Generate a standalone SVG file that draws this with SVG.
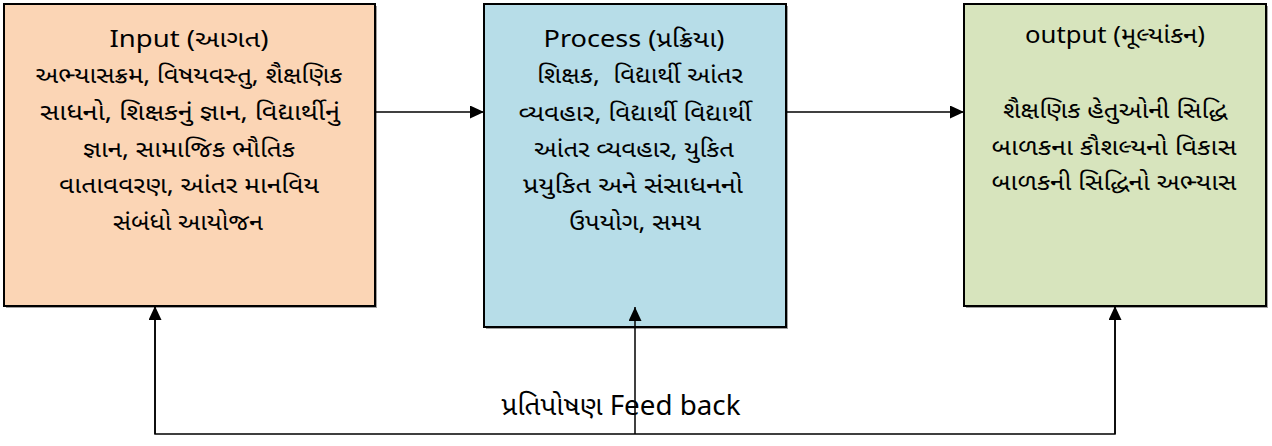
<svg xmlns="http://www.w3.org/2000/svg" width="1272" height="446" viewBox="0 0 1272 446">
  <style>
    .box { stroke: #000; stroke-width: 2; }
    .shadow { fill: #a0a0a0; }
    .t { font-family: "Noto Sans Gujarati", "Noto Sans", "Liberation Sans", sans-serif; font-size: 23px; fill: #000; text-anchor: middle; }
    .conn { stroke: #000; stroke-width: 1.5; fill: none; }
    .fb { font-family: "Noto Sans Gujarati", "Noto Sans", "Liberation Sans", sans-serif; font-size: 27px; fill: #000; text-anchor: middle; }
  </style>
  <defs>
    <marker id="arrow" viewBox="0 0 14 13" refX="14" refY="6.5" markerWidth="14" markerHeight="13" markerUnits="userSpaceOnUse" orient="auto">
      <path d="M0,0 L14,6.5 L0,13 Z" fill="#000"/>
    </marker>
  </defs>
  <rect width="1272" height="446" fill="#fff"/>

  <g id="input">
    <rect class="shadow" x="6" y="6" width="371" height="302"/>
    <rect class="box" x="4" y="4" width="371" height="302" fill="#FBD5B5"/>
    <text class="t" x="189" y="47" textLength="159" lengthAdjust="spacingAndGlyphs">Input (આગત)</text>
    <text class="t" x="189" y="83" textLength="307" lengthAdjust="spacingAndGlyphs">અભ્યાસક્રમ, વિષયવસ્તુ, શૈક્ષણિક</text>
    <text class="t" x="190" y="120" textLength="300" lengthAdjust="spacingAndGlyphs">સાધનો, શિક્ષકનું જ્ઞાન, વિદ્યાર્થીનું</text>
    <text class="t" x="189" y="157" textLength="212" lengthAdjust="spacingAndGlyphs">જ્ઞાન, સામાજિક ભૌતિક</text>
    <text class="t" x="189" y="193" textLength="260" lengthAdjust="spacingAndGlyphs">વાતાવવરણ, આંતર માનવિય</text>
    <text class="t" x="188" y="230" textLength="150" lengthAdjust="spacingAndGlyphs">સંબંધો આયોજન</text>
  </g>

  <g id="process">
    <rect class="shadow" x="486" y="6" width="302" height="323"/>
    <rect class="box" x="484" y="4" width="302" height="323" fill="#B7DDE8"/>
    <text class="t" x="634" y="47" textLength="181" lengthAdjust="spacingAndGlyphs">Process (પ્રક્રિયા)</text>
    <text class="t" x="640" y="83" textLength="206" lengthAdjust="spacingAndGlyphs" xml:space="preserve">શિક્ષક,  વિદ્યાર્થી આંતર</text>
    <text class="t" x="635" y="121" textLength="233" lengthAdjust="spacingAndGlyphs">વ્યવહાર, વિદ્યાર્થી વિદ્યાર્થી</text>
    <text class="t" x="634" y="157" textLength="200" lengthAdjust="spacingAndGlyphs">આંતર વ્યવહાર, યુકિત</text>
    <text class="t" x="633" y="193" textLength="220" lengthAdjust="spacingAndGlyphs">પ્રયુકિત અને સંસાધનનો</text>
    <text class="t" x="635" y="230" textLength="132" lengthAdjust="spacingAndGlyphs">ઉપયોગ, સમય</text>
  </g>

  <g id="output">
    <rect class="shadow" x="966" y="6" width="302" height="302"/>
    <rect class="box" x="964" y="4" width="302" height="302" fill="#D7E4BD"/>
    <text class="t" x="1115" y="43" textLength="180" lengthAdjust="spacingAndGlyphs">output (મૂલ્યાંકન)</text>
    <text class="t" x="1115" y="118" textLength="224" lengthAdjust="spacingAndGlyphs">શૈક્ષણિક હેતુઓની સિદ્ધિ</text>
    <text class="t" x="1114" y="155" textLength="245" lengthAdjust="spacingAndGlyphs">બાળકના કૌશલ્યનો વિકાસ</text>
    <text class="t" x="1114" y="190" textLength="245" lengthAdjust="spacingAndGlyphs">બાળકની સિદ્ધિનો અભ્યાસ</text>
  </g>

  <g id="connectors">
    <line class="conn" x1="376" y1="112" x2="484" y2="112" marker-end="url(#arrow)"/>
    <line class="conn" x1="787" y1="112" x2="964" y2="112" marker-end="url(#arrow)"/>
    <polyline class="conn" points="155,307 155,434 1115,434 1115,307"/>
    <line class="conn" x1="155" y1="434" x2="155" y2="306" marker-end="url(#arrow)"/>
    <line class="conn" x1="1115" y1="434" x2="1115" y2="306" marker-end="url(#arrow)"/>
    <text class="fb" x="621" y="415" textLength="239" lengthAdjust="spacingAndGlyphs">પ્રતિપોષણ Feed back</text>
    <line class="conn" x1="635" y1="434" x2="635" y2="307" marker-end="url(#arrow)"/>
  </g>
</svg>
